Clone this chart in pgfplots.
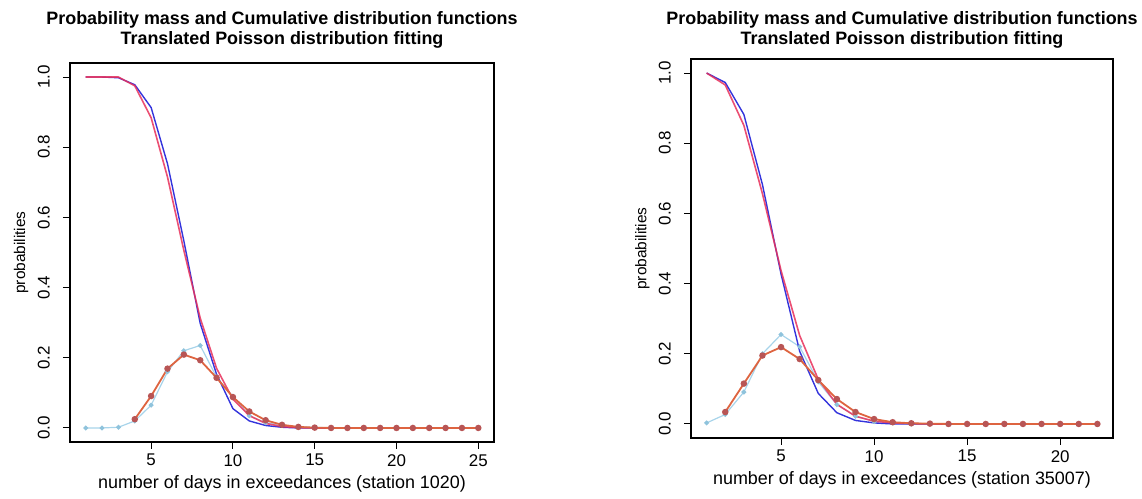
\documentclass[border=0pt]{standalone}
\usepackage{fontspec}
\setmainfont{Liberation Sans}
\usepackage{pgfplots}
\pgfplotsset{compat=1.18}
\definecolor{cdfblue}{HTML}{3434DC}
\definecolor{cdfred}{HTML}{E8305A}
\definecolor{pmfline}{HTML}{DE6440}
\definecolor{pmfmark}{HTML}{B85555}
\definecolor{pmflight}{HTML}{A8D4EA}
\definecolor{pmflightmark}{HTML}{8FC3DC}
\pgfplotsset{rstyle/.style={
  scale only axis, height=379bp, anchor=south west,
  ymin=-0.04, ymax=1.04, ytick={0,0.2,0.4,0.6,0.8,1},
  axis line style={line width=1.3bp, black},
  tick style={line width=1bp, black},
  tick align=outside, major tick length=7bp, tick pos=left,
  /pgf/number format/assume math mode=true,
  tick label style={font=\fontsize{17}{17}\selectfont, inner sep=0pt},
  yticklabel style={rotate=90, anchor=south, /pgf/number format/fixed, /pgf/number format/fixed zerofill, /pgf/number format/precision=1},
  xticklabel style={anchor=north},
  yticklabel shift=13bp, xticklabel shift=5bp,
  label style={font=\fontsize{18}{18}\selectfont},
  xlabel style={at={(axis description cs:0.5,0)}, anchor=base, yshift=-46bp},
  ylabel style={at={(axis description cs:-0.115,0.5)}, anchor=center, font=\fontsize{15.5}{15.5}\selectfont},
  ylabel={probabilities},
  clip=false,
}}
\begin{document}
\begin{tikzpicture}
\useasboundingbox (0,0) rectangle (1142bp,499bp);
% ---------------- left ----------------
\begin{axis}[rstyle, at={(70bp,57bp)}, width=424bp, xmin=0.04, xmax=25.96,
  xtick={5,10,15,20,25}, xlabel={number of days in exceedances (station 1020)}]
\addplot[pmflight, line width=1.2bp, mark=*, mark size=1.8bp, mark options={fill=pmflightmark, draw=pmflightmark}] coordinates {
(1,0)(2,0)(3,0.002)(4,0.02)(5,0.065)(6,0.16)(7,0.22)(8,0.235)(9,0.145)(10,0.09)(11,0.035)(12,0.015)(13,0.008)(14,0.003)(15,0.002)(16,0)(17,0)(18,0)(19,0)(20,0)(21,0)(22,0)(23,0)(24,0)(25,0)};
\addplot[cdfblue, line width=1.4bp] coordinates {
(1,1)(2,1)(3,0.998)(4,0.978)(5,0.913)(6,0.753)(7,0.533)(8,0.298)(9,0.153)(10,0.055)(11,0.02)(12,0.007)(13,0.002)(14,0)(15,0)(16,0)(17,0)(18,0)(19,0)(20,0)(21,0)(22,0)(23,0)(24,0)(25,0)};
\addplot[cdfred, line width=1.6bp, opacity=0.85] coordinates {
(1,1)(2,1)(3,1)(4,0.975)(5,0.884)(6,0.715)(7,0.506)(8,0.313)(9,0.170)(10,0.082)(11,0.035)(12,0.013)(13,0.004)(14,0.001)(15,0)(16,0)(17,0)(18,0)(19,0)(20,0)(21,0)(22,0)(23,0)(24,0)(25,0)};
\addplot[pmfline, line width=1.8bp, mark=*, mark size=2.3bp, mark options={fill=pmfmark, draw=pmfmark}] coordinates {
(4,0.025)(5,0.091)(6,0.169)(7,0.209)(8,0.193)(9,0.143)(10,0.088)(11,0.047)(12,0.022)(13,0.009)(14,0.003)(15,0.001)(16,0)(17,0)(18,0)(19,0)(20,0)(21,0)(22,0)(23,0)(24,0)(25,0)};
\end{axis}
% ---------------- right ----------------
\begin{axis}[rstyle, at={(691bp,61bp)}, width=422bp, xmin=0.16, xmax=22.84,
  xtick={5,10,15,20}, xlabel={number of days in exceedances (station 35007)}]
\addplot[pmflight, line width=1.2bp, mark=*, mark size=1.8bp, mark options={fill=pmflightmark, draw=pmflightmark}] coordinates {
(1,0.003)(2,0.027)(3,0.091)(4,0.20)(5,0.255)(6,0.22)(7,0.12)(8,0.055)(9,0.022)(10,0.007)(11,0.003)(12,0)(13,0)(14,0)(15,0)(16,0)(17,0)(18,0)(19,0)(20,0)(21,0)(22,0)};
\addplot[cdfblue, line width=1.4bp] coordinates {
(1,1)(2,0.973)(3,0.882)(4,0.682)(5,0.427)(6,0.207)(7,0.087)(8,0.032)(9,0.01)(10,0.003)(11,0)(12,0)(13,0)(14,0)(15,0)(16,0)(17,0)(18,0)(19,0)(20,0)(21,0)(22,0)};
\addplot[cdfred, line width=1.6bp, opacity=0.85] coordinates {
(1,1)(2,0.966)(3,0.851)(4,0.656)(5,0.437)(6,0.252)(7,0.127)(8,0.056)(9,0.022)(10,0.008)(11,0.003)(12,0.001)(13,0)(14,0)(15,0)(16,0)(17,0)(18,0)(19,0)(20,0)(21,0)(22,0)};
\addplot[pmfline, line width=1.8bp, mark=*, mark size=2.3bp, mark options={fill=pmfmark, draw=pmfmark}] coordinates {
(2,0.034)(3,0.115)(4,0.195)(5,0.219)(6,0.185)(7,0.125)(8,0.071)(9,0.034)(10,0.014)(11,0.005)(12,0.002)(13,0.001)(14,0)(15,0)(16,0)(17,0)(18,0)(19,0)(20,0)(21,0)(22,0)};
\end{axis}
% ---------------- titles ----------------
\begin{scope}[every node/.style={font=\bfseries\fontsize{18}{18}\selectfont, anchor=base, inner sep=0pt}]
\node at (282bp,474bp) {Probability mass and Cumulative distribution functions};
\node at (282bp,454bp) {Translated Poisson distribution fitting};
\node at (902bp,474bp) {Probability mass and Cumulative distribution functions};
\node at (902bp,454bp) {Translated Poisson distribution fitting};
\end{scope}
\end{tikzpicture}
\end{document}
